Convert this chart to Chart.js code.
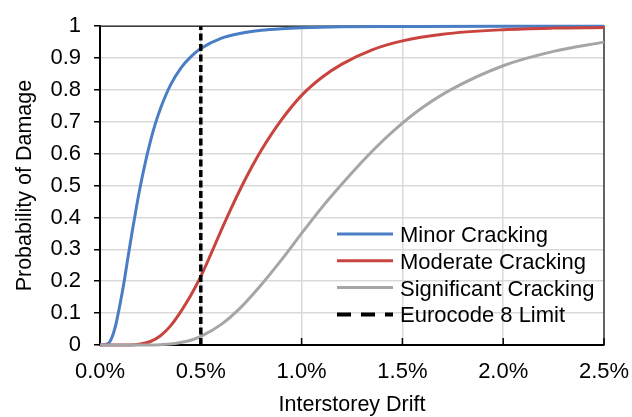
<!DOCTYPE html>
<html>
<head>
<meta charset="utf-8">
<script src="https://cdn.jsdelivr.net/npm/chart.js@4.4.1/dist/chart.umd.min.js"></script>
<style>
  html, body { margin: 0; padding: 0; background: #fff; }
  #wrap { width: 632px; height: 417px; position: relative; }
</style>
</head>
<body>
<div id="wrap"><canvas id="chart" width="632" height="417"></canvas></div>
<script>
// Fragility curves: probability of damage vs interstorey drift (%)
const minorDrift = [0, 0.04, 0.05, 0.06, 0.07, 0.08, 0.10, 0.12, 0.14, 0.16, 0.18, 0.20, 0.225, 0.25, 0.275, 0.30, 0.35, 0.40, 0.45, 0.50, 0.60, 0.70, 0.80, 0.90, 1.00, 1.20, 1.50, 2.00, 2.50];
const minorProb  = [0, 0.004, 0.012, 0.025, 0.044, 0.068, 0.13, 0.20, 0.28, 0.357, 0.43, 0.498, 0.573, 0.639, 0.695, 0.742, 0.816, 0.868, 0.904, 0.93, 0.962, 0.978, 0.987, 0.992, 0.995, 0.998, 0.999, 1, 1];

const moderateDrift = [0, 0.15, 0.20, 0.25, 0.30, 0.35, 0.40, 0.45, 0.50, 0.55, 0.60, 0.65, 0.70, 0.75, 0.80, 0.90, 1.00, 1.10, 1.20, 1.35, 1.50, 1.70, 2.00, 2.25, 2.50];
const moderateProb  = [0, 0, 0.003, 0.011, 0.029, 0.06, 0.104, 0.155, 0.215, 0.285, 0.358, 0.428, 0.494, 0.555, 0.611, 0.706, 0.783, 0.839, 0.881, 0.926, 0.954, 0.975, 0.989, 0.994, 0.996];

const significantDrift = [0, 0.25, 0.30, 0.35, 0.40, 0.45, 0.50, 0.60, 0.70, 0.80, 0.90, 1.00, 1.10, 1.20, 1.30, 1.40, 1.50, 1.60, 1.75, 2.00, 2.25, 2.50];
const significantProb  = [0, 0, 0.001, 0.003, 0.008, 0.015, 0.027, 0.064, 0.119, 0.189, 0.267, 0.35, 0.431, 0.505, 0.575, 0.639, 0.696, 0.745, 0.804, 0.876, 0.921, 0.95];

// Eurocode 8 drift limit
const limitDrift = [0.5, 0.5];
const limitProb  = [0, 1];

const seriesNames = ['Minor Cracking', 'Moderate Cracking', 'Significant Cracking', 'Eurocode 8 Limit'];

const xTickLabels = ['0.0%', '0.5%', '1.0%', '1.5%', '2.0%', '2.5%'];
const yTickLabels = ['0', '0.1', '0.2', '0.3', '0.4', '0.5', '0.6', '0.7', '0.8', '0.9', '1'];

const pairs = (xs, ys) => xs.map((x, i) => ({ x: x, y: ys[i] }));

const FONT = "'Liberation Sans', Arial, sans-serif";
Chart.defaults.font.family = FONT;
Chart.defaults.color = '#000';

// Top and right edges of the plot frame
const plotFrame = {
  id: 'plotFrame',
  beforeDatasetsDraw(chart) {
    const { ctx, chartArea: a } = chart;
    ctx.save();
    ctx.strokeStyle = '#3a3a3a';
    ctx.lineWidth = 1.5;
    ctx.beginPath();
    ctx.moveTo(a.left, a.top);
    ctx.lineTo(a.right, a.top);
    ctx.lineTo(a.right, a.bottom);
    ctx.stroke();
    ctx.restore();
  }
};

// Short inward tick marks on the drift axis
const innerTicks = {
  id: 'innerTicks',
  beforeDatasetsDraw(chart) {
    const { ctx, chartArea: a, scales } = chart;
    const xs = scales.x;
    ctx.save();
    ctx.strokeStyle = '#000';
    ctx.lineWidth = 1.5;
    xs.ticks.forEach(t => {
      const px = xs.getPixelForValue(t.value);
      ctx.beginPath();
      ctx.moveTo(px, a.bottom);
      ctx.lineTo(px, a.bottom - 7);
      ctx.stroke();
    });
    ctx.restore();
  }
};

// Legend placed inside the lower-right of the plot
const insideLegend = {
  id: 'insideLegend',
  afterDraw(chart) {
    const { ctx, chartArea: a } = chart;
    const x0 = a.right - 267, x1 = a.right - 211, tx = a.right - 204;
    const y0 = a.bottom - 111, step = 26.8;
    ctx.save();
    ctx.font = '22px ' + FONT;
    ctx.fillStyle = '#000';
    ctx.textBaseline = 'alphabetic';
    ctx.textAlign = 'left';
    chart.data.datasets.forEach((ds, i) => {
      const y = y0 + i * step;
      ctx.beginPath();
      ctx.strokeStyle = ds.borderColor;
      if (ds.borderDash && ds.borderDash.length) {
        ctx.lineWidth = 4;
        ctx.setLineDash([14, 10]);
      } else {
        ctx.lineWidth = 3;
        ctx.setLineDash([]);
      }
      ctx.moveTo(x0, y);
      ctx.lineTo(x1, y);
      ctx.stroke();
      ctx.setLineDash([]);
      ctx.fillText(ds.label, tx, y + 8);
    });
    ctx.restore();
  }
};

const lineStyle = (color, order) => ({
  borderColor: color,
  backgroundColor: color,
  borderWidth: 3,
  pointRadius: 0,
  fill: false,
  cubicInterpolationMode: 'monotone',
  clip: 4,
  order: order
});

new Chart(document.getElementById('chart'), {
  type: 'line',
  data: {
    datasets: [
      Object.assign({ label: seriesNames[0], data: pairs(minorDrift, minorProb) }, lineStyle('#4a7ec4', 4)),
      Object.assign({ label: seriesNames[1], data: pairs(moderateDrift, moderateProb) }, lineStyle('#c9433f', 3)),
      Object.assign({ label: seriesNames[2], data: pairs(significantDrift, significantProb) }, lineStyle('#a6a6a6', 2)),
      {
        label: seriesNames[3],
        data: pairs(limitDrift, limitProb),
        borderColor: '#000',
        borderWidth: 3.5,
        borderDash: [7, 3.5],
        pointRadius: 0,
        fill: false,
        clip: 4,
        order: 1
      }
    ]
  },
  options: {
    responsive: false,
    animation: false,
    layout: { padding: { top: 20, right: 28, bottom: 0, left: 0 } },
    plugins: {
      legend: { display: false },
      tooltip: { enabled: false }
    },
    scales: {
      x: {
        type: 'linear',
        min: 0,
        max: 2.5,
        ticks: {
          stepSize: 0.5,
          padding: 14,
          font: { size: 22 },
          color: '#000',
          maxRotation: 0,
          callback: (v, i) => xTickLabels[i]
        },
        grid: { color: '#d9d9d9', lineWidth: 1.5, drawTicks: false },
        border: { color: '#000', width: 2 },
        title: {
          display: true,
          text: 'Interstorey Drift',
          font: { size: 21.5, lineHeight: 1.1 },
          color: '#000',
          padding: { top: 0, bottom: 0 }
        },
        afterFit(s) { s.height = 72; s.paddingLeft = 0; s.paddingRight = 0; }
      },
      y: {
        type: 'linear',
        min: 0,
        max: 1,
        ticks: {
          stepSize: 0.1,
          padding: 13,
          font: { size: 22 },
          color: '#000',
          callback: (v, i) => yTickLabels[i]
        },
        grid: { color: '#d9d9d9', lineWidth: 1.5, tickColor: '#000', tickLength: 6, tickWidth: 1.5 },
        border: { color: '#000', width: 2 },
        title: {
          display: true,
          text: 'Probability of Damage',
          font: { size: 21.5, lineHeight: 1.1 },
          color: '#000',
          padding: { top: 13, bottom: 0 }
        },
        afterFit(s) { s.width = 100; }
      }
    }
  },
  plugins: [plotFrame, innerTicks, insideLegend]
});
</script>
</body>
</html>
